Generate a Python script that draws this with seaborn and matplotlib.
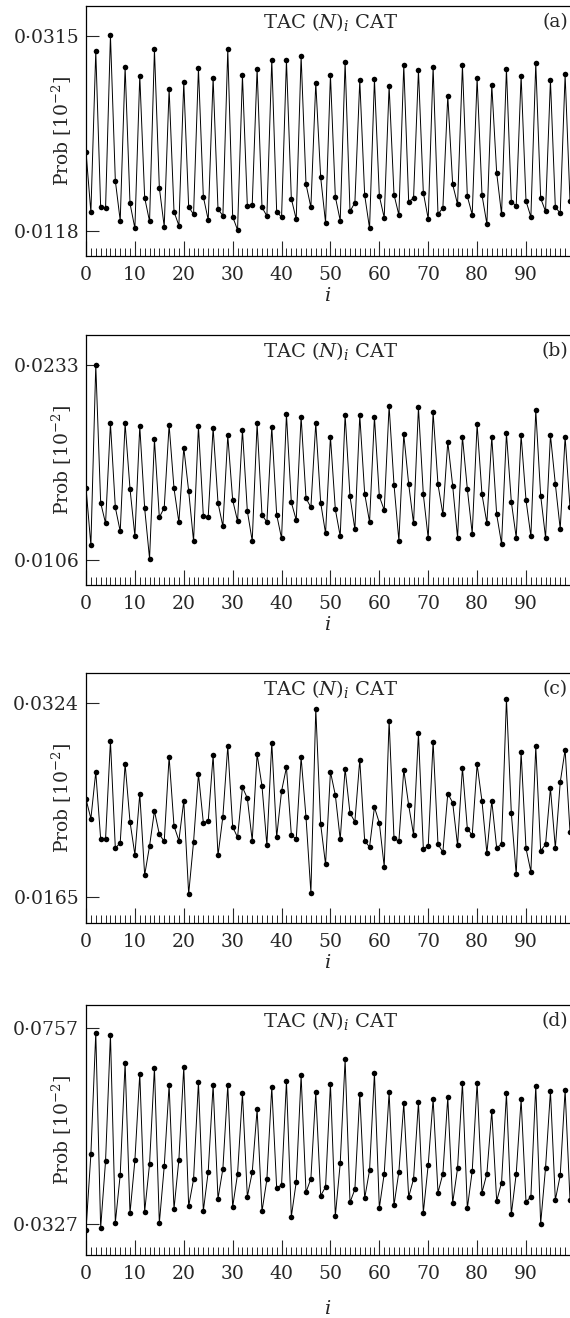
import matplotlib
matplotlib.use("Agg")
import matplotlib.pyplot as plt
import seaborn as sns
import pandas as pd
from matplotlib.ticker import MultipleLocator, FixedLocator

idx = list(range(100))

prob_a = [0.01978, 0.01365, 0.02995, 0.01416, 0.01406, 0.03153, 0.01685, 0.01281, 0.02837, 0.01456,
          0.01204, 0.02746, 0.01513, 0.01274, 0.03012, 0.01614, 0.01220, 0.02615, 0.01372, 0.01231,
          0.02682, 0.01419, 0.01345, 0.02823, 0.01523, 0.01288, 0.02726, 0.01396, 0.01332, 0.03012,
          0.01321, 0.01187, 0.02749, 0.01433, 0.01443, 0.02817, 0.01416, 0.01328, 0.02908, 0.01372,
          0.01315, 0.02904, 0.01503, 0.01294, 0.02945, 0.01651, 0.01416, 0.02675, 0.01719, 0.01261,
          0.02753, 0.01523, 0.01281, 0.02887, 0.01375, 0.01463, 0.02699, 0.01540, 0.01204, 0.02712,
          0.01530, 0.01311, 0.02642, 0.01544, 0.01338, 0.02857, 0.01473, 0.01510, 0.02803, 0.01564,
          0.01298, 0.02837, 0.01345, 0.01412, 0.02544, 0.01648, 0.01446, 0.02850, 0.01527, 0.01342,
          0.02722, 0.01540, 0.01247, 0.02652, 0.01766, 0.01345, 0.02817, 0.01470, 0.01433, 0.02746,
          0.01480, 0.01318, 0.02874, 0.01507, 0.01375, 0.02702, 0.01416, 0.01358, 0.02759, 0.01480]

prob_b = [0.01530, 0.01154, 0.02330, 0.01432, 0.01297, 0.01949, 0.01401, 0.01245, 0.01949, 0.01523,
          0.01214, 0.01930, 0.01395, 0.01067, 0.01845, 0.01336, 0.01399, 0.01939, 0.01525, 0.01304,
          0.01791, 0.01508, 0.01182, 0.01930, 0.01345, 0.01341, 0.01921, 0.01432, 0.01277, 0.01871,
          0.01449, 0.01312, 0.01906, 0.01378, 0.01182, 0.01949, 0.01351, 0.01306, 0.01928, 0.01354,
          0.01199, 0.02010, 0.01434, 0.01319, 0.01993, 0.01462, 0.01401, 0.01952, 0.01432, 0.01232,
          0.01862, 0.01388, 0.01214, 0.02006, 0.01473, 0.01258, 0.02002, 0.01491, 0.01306, 0.01993,
          0.01473, 0.01384, 0.02063, 0.01549, 0.01184, 0.01878, 0.01554, 0.01297, 0.02054, 0.01486,
          0.01199, 0.02021, 0.01551, 0.01356, 0.01830, 0.01543, 0.01204, 0.01862, 0.01521, 0.01230,
          0.01943, 0.01486, 0.01299, 0.01862, 0.01356, 0.01164, 0.01884, 0.01438, 0.01204, 0.01871,
          0.01449, 0.01212, 0.02034, 0.01478, 0.01204, 0.01873, 0.01554, 0.01260, 0.01862, 0.01401]

prob_c = [0.02452, 0.02293, 0.02674, 0.02126, 0.02126, 0.02928, 0.02050, 0.02096, 0.02742, 0.02268,
          0.01998, 0.02496, 0.01831, 0.02069, 0.02356, 0.02164, 0.02107, 0.02799, 0.02233, 0.02113,
          0.02438, 0.01677, 0.02102, 0.02657, 0.02260, 0.02271, 0.02810, 0.01992, 0.02310, 0.02887,
          0.02225, 0.02140, 0.02550, 0.02460, 0.02113, 0.02819, 0.02559, 0.02074, 0.02914, 0.02140,
          0.02518, 0.02712, 0.02162, 0.02123, 0.02794, 0.02304, 0.01686, 0.03191, 0.02247, 0.01918,
          0.02676, 0.02485, 0.02123, 0.02701, 0.02337, 0.02268, 0.02775, 0.02110, 0.02061, 0.02386,
          0.02258, 0.01899, 0.03095, 0.02132, 0.02107, 0.02693, 0.02403, 0.02162, 0.02991, 0.02047,
          0.02066, 0.02923, 0.02082, 0.02019, 0.02498, 0.02424, 0.02074, 0.02709, 0.02211, 0.02156,
          0.02736, 0.02435, 0.02009, 0.02438, 0.02052, 0.02085, 0.03273, 0.02337, 0.01836, 0.02835,
          0.02050, 0.01858, 0.02884, 0.02028, 0.02082, 0.02542, 0.02052, 0.02589, 0.02857, 0.02186]

prob_d = [0.03146, 0.04806, 0.07475, 0.03190, 0.04659, 0.07431, 0.03307, 0.04360, 0.06817, 0.03511,
          0.04674, 0.06575, 0.03548, 0.04594, 0.06707, 0.03292, 0.04542, 0.06327, 0.03606, 0.04689,
          0.06722, 0.03665, 0.04257, 0.06400, 0.03563, 0.04425, 0.06327, 0.03833, 0.04491, 0.06327,
          0.03650, 0.04374, 0.06144, 0.03877, 0.04411, 0.05793, 0.03555, 0.04257, 0.06283, 0.04067,
          0.04133, 0.06415, 0.03438, 0.04199, 0.06539, 0.03972, 0.04272, 0.06166, 0.03899, 0.04089,
          0.06349, 0.03453, 0.04608, 0.06890, 0.03753, 0.04038, 0.06122, 0.03840, 0.04455, 0.06590,
          0.03628, 0.04382, 0.06166, 0.03687, 0.04425, 0.05925, 0.03870, 0.04265, 0.05954, 0.03526,
          0.04579, 0.06020, 0.03965, 0.04382, 0.06056, 0.03738, 0.04499, 0.06378, 0.03621, 0.04440,
          0.06378, 0.03965, 0.04382, 0.05756, 0.03782, 0.04184, 0.06144, 0.03489, 0.04382, 0.06012,
          0.03760, 0.03877, 0.06312, 0.03285, 0.04513, 0.06195, 0.03804, 0.04345, 0.06217, 0.03804]

yticks_a = [0.0118, 0.0315]
yticks_b = [0.0106, 0.0233]
yticks_c = [0.0165, 0.0324]
yticks_d = [0.0327, 0.0757]

panel_labels = ["(a)", "(b)", "(c)", "(d)"]
panel_title = r"TAC ($N$)$_i$ CAT"
xtick_labels = ["0", "10", "20", "30", "40", "50", "60", "70", "80", "90"]

sns.set_style("ticks")
plt.rcParams["font.family"] = ["DejaVu Serif"]
plt.rcParams["mathtext.fontset"] = "dejavuserif"

W, H = 570, 1318
fig = plt.figure(figsize=(W / 100, H / 100), dpi=100)

series = [prob_a, prob_b, prob_c, prob_d]
yticks = [yticks_a, yticks_b, yticks_c, yticks_d]
ylims = [(0.00924, 0.0345), (0.00895, 0.02526), (0.01439, 0.03484), (0.02597, 0.08082)]
tops = [6, 335, 673, 1005]
xlab_y = [-0.16, -0.16, -0.16, -0.215]

left_px = 86
for k in range(4):
    top = tops[k]
    bottom = top + 250
    ax = fig.add_axes([left_px / W, (H - bottom) / H, (W - left_px) / W, 250 / H])
    df = pd.DataFrame({"i": idx, "prob": series[k]})
    sns.lineplot(data=df, x="i", y="prob", ax=ax, color="black", linewidth=0.7,
                 marker="o", markersize=4, markeredgewidth=0, markerfacecolor="black")
    ax.set_xlim(0, 99)
    ax.set_ylim(*ylims[k])
    ax.spines["right"].set_visible(False)
    for s in ["left", "top", "bottom"]:
        ax.spines[s].set_linewidth(0.9)
        ax.spines[s].set_color("black")
    ax.xaxis.set_major_locator(FixedLocator(list(range(0, 100, 10))))
    ax.set_xticklabels(xtick_labels)
    ax.xaxis.set_minor_locator(MultipleLocator(1))
    ax.yaxis.set_major_locator(FixedLocator(yticks[k]))
    ax.set_yticklabels([("%.4f" % v).replace(".", "\u00b7") for v in yticks[k]])
    ax.tick_params(axis="x", which="major", direction="in", length=11, width=0.8,
                   labelsize=13.5, pad=7, top=False)
    ax.tick_params(axis="x", which="minor", direction="in", length=5.5, width=0.7, top=False)
    ax.tick_params(axis="y", which="major", direction="in", length=9.5, width=0.8,
                   labelsize=13.5, pad=5, right=False)
    ax.set_ylabel(r"Prob [10$^{-2}$]", fontsize=13.5)
    ax.yaxis.label.set_verticalalignment("center")
    ax.yaxis.label.set_rotation_mode("anchor")
    ax.yaxis.set_label_coords(-0.05, 0.5)
    ax.set_xlabel(r"$i$", fontsize=14)
    ax.xaxis.label.set_verticalalignment("center")
    ax.xaxis.set_label_coords(0.5, xlab_y[k])
    ax.text(0.505, 0.935, panel_title, transform=ax.transAxes, ha="center", va="center",
            fontsize=14)
    ax.text(0.969, 0.935, panel_labels[k], transform=ax.transAxes, ha="center", va="center",
            fontsize=13.5)

fig.savefig("out.png", dpi=100)
